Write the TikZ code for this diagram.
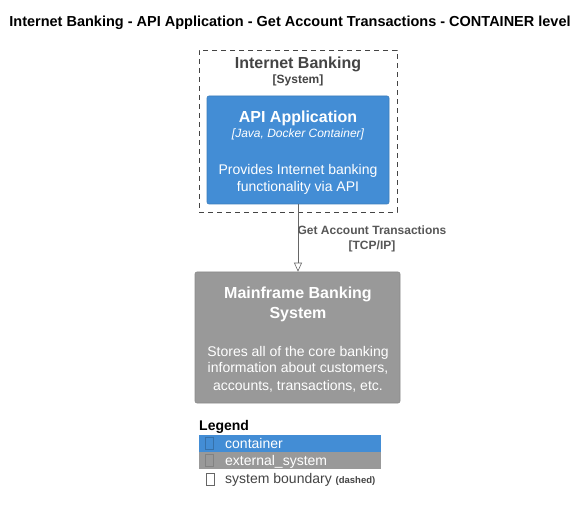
\documentclass[tikz,border=0pt]{standalone}
\usepackage{fontspec}
\setmainfont{Liberation Sans}
\usepackage{tikz}
\usetikzlibrary{arrows.meta, positioning}
\definecolor{containerblue}{HTML}{438DD5}
\definecolor{extgray}{HTML}{999999}
\definecolor{boundgray}{HTML}{444444}
\definecolor{relgray}{HTML}{666666}

\begin{document}
\begin{tikzpicture}[x=1pt, y=-1pt,
    box/.style={rounded corners=2pt, inner sep=0pt, line width=0.6pt},
    container/.style={box, fill=containerblue, draw=containerblue!88!black},
    extsystem/.style={box, fill=extgray, draw=extgray!90!black},
    boxtext/.style={anchor=base, text=white},
    rel/.style={draw=relgray, line width=0.6pt, -{Triangle[open, length=9pt, width=8pt]}},
    glyph/.style={draw, line width=0.5pt, minimum width=8pt, minimum height=12pt, inner sep=0pt}]
  \useasboundingbox (0,0) rectangle (587,513);

  % title
  \node[anchor=base, font=\bfseries\fontsize{14.5}{17}\selectfont] (title) at (290,27)
    {Internet Banking - API Application - Get Account Transactions - CONTAINER level};

  % system boundary
  \node[draw=boundgray, dashed, dash pattern=on 5pt off 4pt, line width=0.6pt,
        minimum width=198pt, minimum height=162pt, inner sep=0pt] (ib) at (298,131) {};
  \node[anchor=base, text=boundgray, font=\bfseries\fontsize{16}{19}\selectfont] (ibname) at (298,69) {Internet Banking};
  \node[anchor=base, text=boundgray, font=\bfseries\fontsize{12}{14}\selectfont] (ibtype) at (298,84) {[System]};

  % API application
  \node[container, minimum width=182pt, minimum height=108pt] (api) at (298,150) {};
  \node[boxtext, font=\bfseries\fontsize{16}{19}\selectfont] (apiname) at (298,123) {API Application};
  \node[boxtext, font=\itshape\fontsize{12}{14}\selectfont] (apitech) at (298,138) {[Java, Docker Container]};
  \node[boxtext, font=\fontsize{14}{17}\selectfont] (apidesc1) at (298,175) {Provides Internet banking};
  \node[boxtext, font=\fontsize{14}{17}\selectfont] (apidesc2) at (298,192) {functionality via API};

  % mainframe
  \node[extsystem, minimum width=205pt, minimum height=131pt] (mf) at (297.5,337.5) {};
  \node[boxtext, font=\bfseries\fontsize{16}{19}\selectfont] (mfname1) at (298,299) {Mainframe Banking};
  \node[boxtext, font=\bfseries\fontsize{16}{19}\selectfont] (mfname2) at (298,319) {System};
  \node[boxtext, font=\fontsize{14}{17}\selectfont] (mfdesc1) at (298,356) {Stores all of the core banking};
  \node[boxtext, font=\fontsize{14}{17}\selectfont] (mfdesc2) at (298,373) {information about customers,};
  \node[boxtext, font=\fontsize{14}{17}\selectfont] (mfdesc3) at (298,390) {accounts, transactions, etc.};

  % relation
  \draw[rel] (api.south) -- (api.south |- mf.north);
  \node[anchor=base, text=relgray!85!black, font=\bfseries\fontsize{12}{14}\selectfont] (rellabel) at (372,235) {Get Account Transactions};
  \node[anchor=base, text=relgray!85!black, font=\bfseries\fontsize{12}{14}\selectfont] (relproto) at (372,250) {[TCP/IP]};

  % legend
  \node[anchor=base west, inner sep=0pt, font=\bfseries\fontsize{14}{17}\selectfont] (legend) at (199,431) {Legend};
  \node[fill=containerblue, minimum width=182pt, minimum height=17pt, inner sep=0pt, anchor=north west] (lgcont) at (199,435) {};
  \node[fill=extgray, minimum width=182pt, minimum height=17pt, inner sep=0pt, anchor=north west] (lgext) at (199,452) {};
  \node[glyph, draw=containerblue!80!black] (gcont) at (209,443) {};
  \node[glyph, draw=extgray!85!black] (gext) at (209,460.5) {};
  \node[glyph, draw=relgray] (gbound) at (210,479) {};
  \node[anchor=base west, inner sep=0pt, text=white, font=\fontsize{14}{17}\selectfont] (lgconttxt) at (225,448) {container};
  \node[anchor=base west, inner sep=0pt, text=white, font=\fontsize{14}{17}\selectfont] (lgexttxt) at (225,465) {external\_system};
  \node[anchor=base west, inner sep=0pt, text=boundgray, font=\fontsize{14}{17}\selectfont] (lgboundtxt) at (225,483)
    {system boundary {\bfseries\fontsize{9.5}{11}\selectfont (dashed)}};
\end{tikzpicture}
\end{document}
